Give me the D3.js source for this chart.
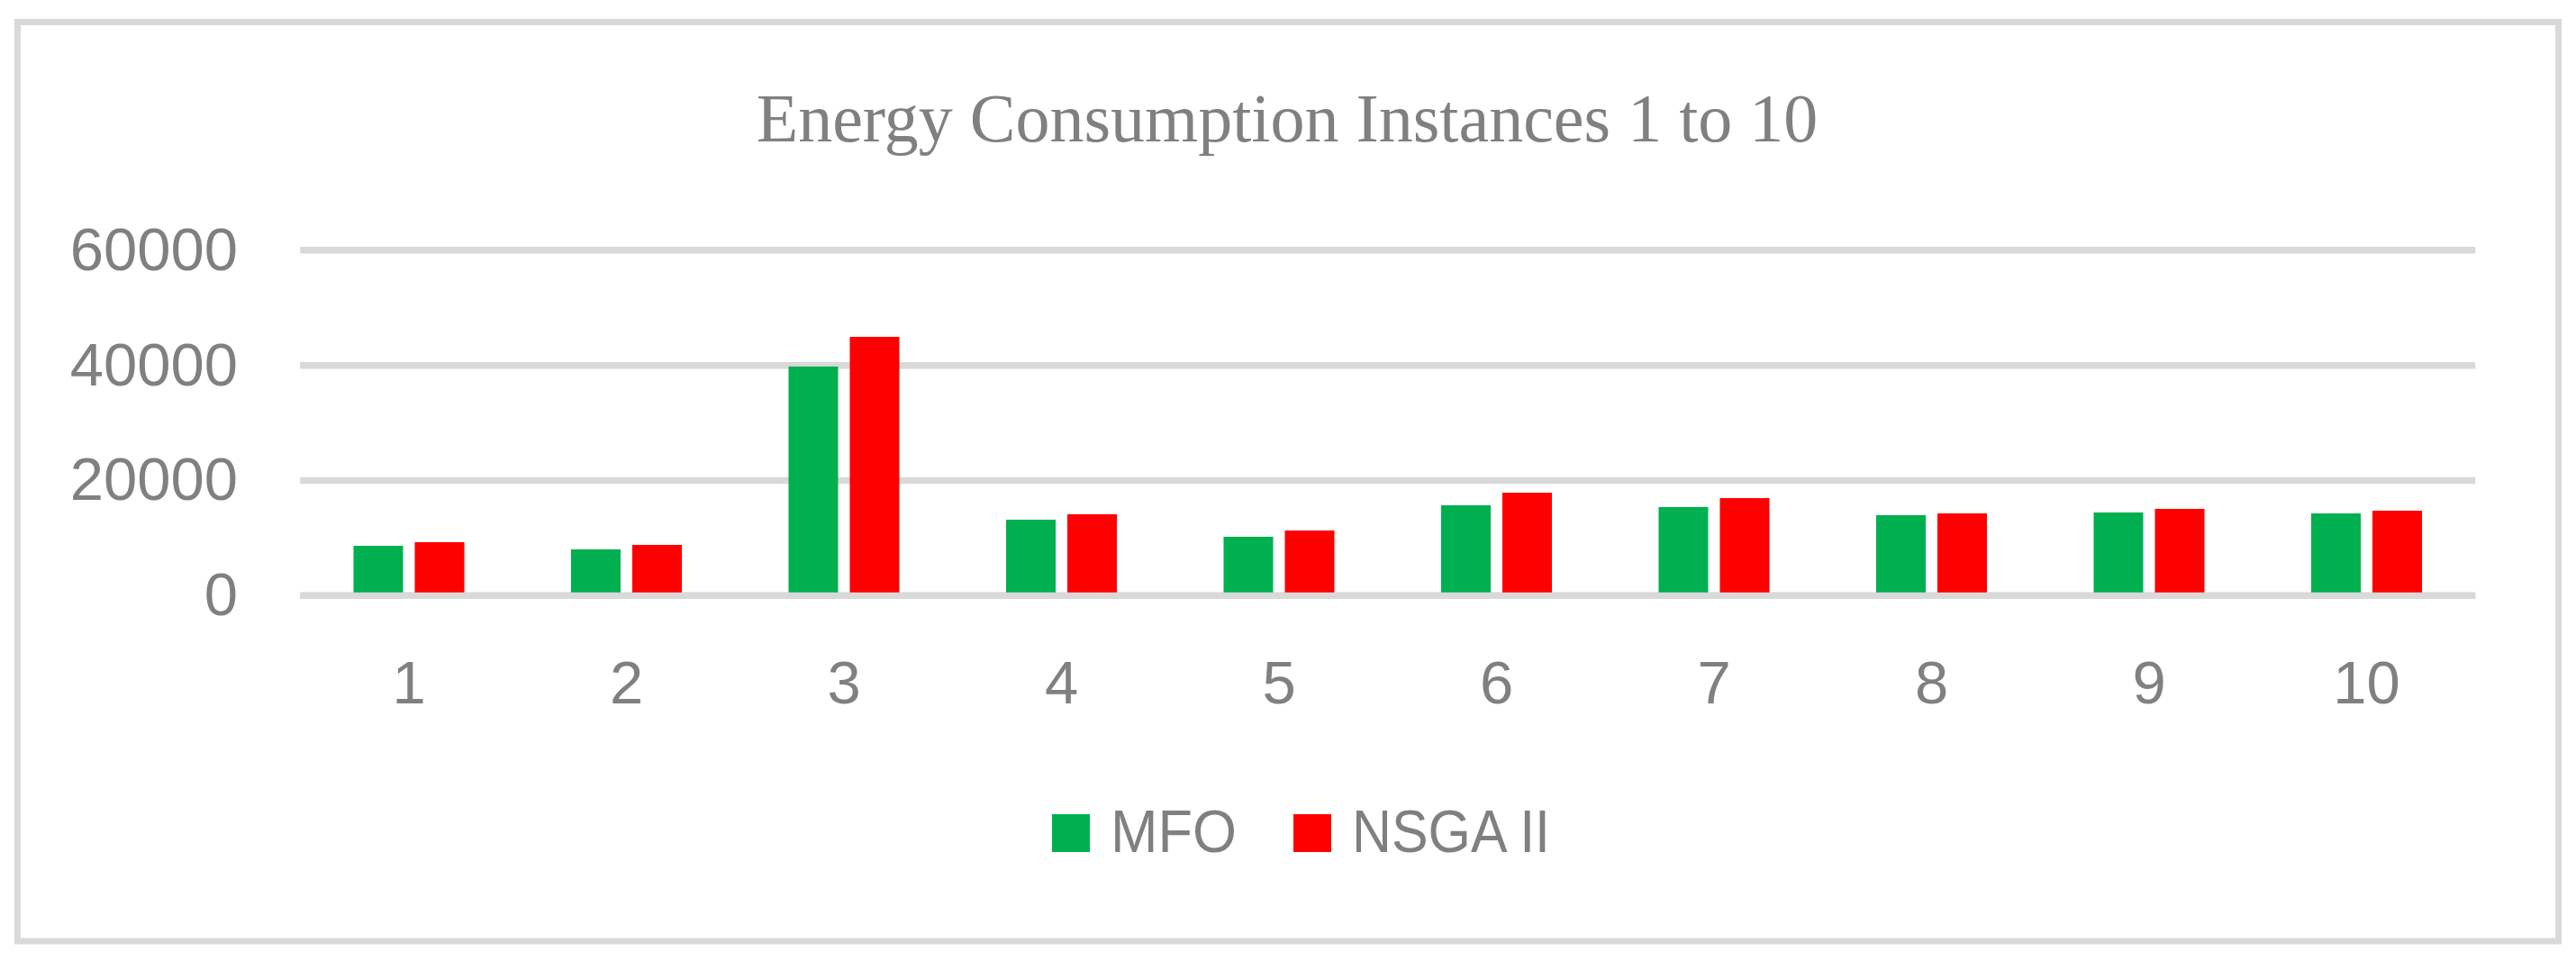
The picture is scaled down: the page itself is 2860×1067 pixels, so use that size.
<!DOCTYPE html>
<html>
<head>
<meta charset="utf-8">
<script src="https://cdn.jsdelivr.net/npm/d3@7"></script>
<style>
  html, body { margin: 0; padding: 0; background: #ffffff; }
  svg { display: block; }
</style>
</head>
<body>
<svg id="chart" width="2860" height="1067"></svg>
<script>
const categories = ["1", "2", "3", "4", "5", "6", "7", "8", "9", "10"];
const seriesNames = ["MFO", "NSGA II"];
const mfoValues  = [8650, 8030, 39790, 13190, 10220, 15690, 15380, 13970, 14440, 14280];
const nsgaValues = [9280, 8810, 44950, 14130, 11310, 17880, 16940, 14280, 15070, 14750];
const yTicks = [0, 20000, 40000, 60000];
const seriesColors = ["#00b050", "#ff0000"];
const titleText = "Energy Consumption Instances 1 to 10";

const W = 2860, H = 1067;
const svg = d3.select("#chart");
const textColor = "#808080";
const gridColor = "#d9d9d9";

// outer border
svg.append("rect")
  .attr("x", 19.5).attr("y", 24.5)
  .attr("width", 2821).attr("height", 1020.5)
  .attr("fill", "#ffffff")
  .attr("stroke", gridColor).attr("stroke-width", 7);

// title
svg.append("text")
  .attr("x", 1429).attr("y", 157)
  .attr("text-anchor", "middle")
  .attr("font-family", "'Liberation Serif', 'Times New Roman', serif")
  .attr("font-size", 76)
  .attr("fill", textColor)
  .text(titleText);

const plotLeft = 333.25, plotRight = 2748.25;
const yZero = 661.3, yTop = 277.8;

const x = d3.scaleBand().domain(categories).range([plotLeft, plotRight]).padding(0);
const xs = d3.scaleBand().domain(seriesNames).range([0, x.bandwidth()])
  .paddingInner(0.191).paddingOuter(0.871);
const y = d3.scaleLinear().domain([0, 60000]).range([yZero, yTop]);

// gridlines
const gridG = svg.append("g");
gridG.selectAll("line").data(yTicks).join("line")
  .attr("x1", plotLeft).attr("x2", plotRight)
  .attr("y1", d => y(d)).attr("y2", d => y(d))
  .attr("stroke", gridColor).attr("stroke-width", 7.5);

// y axis labels
const yAxis = d3.axisLeft(y).tickValues(yTicks).tickSize(0).tickPadding(0).tickFormat(d3.format("d"));
const yG = svg.append("g").attr("transform", `translate(264,0)`).call(yAxis);
yG.select(".domain").remove();
yG.selectAll("text")
  .attr("font-family", "'Liberation Sans', Arial, sans-serif")
  .attr("font-size", 67)
  .attr("fill", textColor)
  .attr("dy", "0.32em");

// bars
const data = categories.map((c, i) => ({cat: c, vals: [mfoValues[i], nsgaValues[i]]}));
const groups = svg.append("g").selectAll("g").data(data).join("g")
  .attr("transform", d => `translate(${x(d.cat)},0)`);
groups.selectAll("rect").data(d => d.vals.map((v, j) => ({name: seriesNames[j], v, j})))
  .join("rect")
  .attr("x", d => xs(d.name))
  .attr("width", xs.bandwidth())
  .attr("y", d => y(d.v))
  .attr("height", d => y(0) - y(d.v))
  .attr("fill", d => seriesColors[d.j]);

// zero axis line on top
svg.append("line")
  .attr("x1", plotLeft).attr("x2", plotRight)
  .attr("y1", y(0)).attr("y2", y(0))
  .attr("stroke", gridColor).attr("stroke-width", 7);

// x axis labels
const xAxis = d3.axisBottom(x).tickSize(0).tickPadding(0);
const xG = svg.append("g").attr("transform", `translate(0,781)`).call(xAxis);
xG.select(".domain").remove();
xG.selectAll("text")
  .attr("font-family", "'Liberation Sans', Arial, sans-serif")
  .attr("font-size", 67)
  .attr("fill", textColor)
  .attr("dy", 0)
  .attr("y", 0);

// legend
const legendWidths = [140, 220];
const legend = svg.append("g");
let lx = 1168;
seriesNames.forEach((name, i) => {
  legend.append("rect")
    .attr("x", lx).attr("y", 904)
    .attr("width", 42).attr("height", 42)
    .attr("fill", seriesColors[i]);
  const t = legend.append("text")
    .attr("x", lx + 42 + 23).attr("y", 946)
    .attr("font-family", "'Liberation Sans', Arial, sans-serif")
    .attr("font-size", 66)
    .attr("fill", textColor)
    .attr("textLength", legendWidths[i])
    .attr("lengthAdjust", "spacingAndGlyphs")
    .text(name);
  lx = lx + 42 + 23 + legendWidths[i] + 63;
});
</script>
</body>
</html>
